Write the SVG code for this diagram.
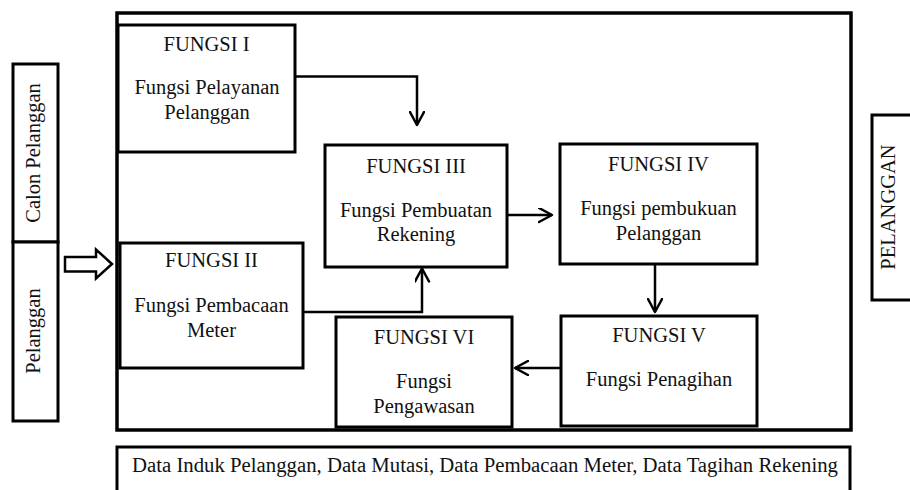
<svg xmlns="http://www.w3.org/2000/svg" width="910" height="490" viewBox="0 0 910 490">
<defs>
<style>
.box{fill:#fff;stroke:#000;stroke-width:3}
.frame{fill:none;stroke:#000;stroke-width:3.5}
.t{font-family:"Liberation Serif","Times New Roman",serif;font-size:20.5px;fill:#111;text-anchor:middle}
.c{fill:none;stroke:#000;stroke-width:2.5}
</style>
<marker id="ah" viewBox="0 0 16 16" markerUnits="userSpaceOnUse" markerWidth="16" markerHeight="16" refX="14" refY="7.5" orient="auto">
<path d="M1,0.5 L14,7.5 L1,14.5" fill="none" stroke="#000" stroke-width="2.5" stroke-linejoin="round" stroke-linecap="round"/>
</marker>
</defs>
<rect width="910" height="490" fill="#fff"/>

<g id="frame"><rect class="frame" x="117" y="13" width="734" height="417"/></g>

<g id="calon-pelanggan">
<rect class="box" x="13" y="64" width="45" height="178"/>
<text class="t" transform="translate(40,153) rotate(-90)">Calon Pelanggan</text>
</g>
<g id="pelanggan-left">
<rect class="box" x="13" y="242" width="45" height="179"/>
<text class="t" transform="translate(40,331) rotate(-90)">Pelanggan</text>
</g>

<g id="pelanggan-right">
<rect class="box" x="872" y="115" width="60" height="185"/>
<text class="t" transform="translate(895,207) rotate(-90)">PELANGGAN</text>
</g>

<g id="fungsi1">
<rect class="box" x="118" y="25" width="177" height="127"/>
<text class="t" x="206.5" y="50.5">FUNGSI  I</text>
<text class="t" x="207" y="94">Fungsi Pelayanan</text>
<text class="t" x="207" y="119">Pelanggan</text>
</g>

<g id="fungsi2">
<rect class="box" x="120" y="243" width="183" height="125"/>
<text class="t" x="211.5" y="267">FUNGSI  II</text>
<text class="t" x="211.5" y="312">Fungsi Pembacaan</text>
<text class="t" x="211.5" y="337">Meter</text>
</g>

<g id="fungsi3">
<rect class="box" x="325" y="145" width="182" height="122"/>
<text class="t" x="416" y="172.5">FUNGSI  III</text>
<text class="t" x="416" y="216.5">Fungsi Pembuatan</text>
<text class="t" x="416" y="241">Rekening</text>
</g>

<g id="fungsi4">
<rect class="box" x="560" y="144" width="197" height="120"/>
<text class="t" x="658.5" y="171">FUNGSI  IV</text>
<text class="t" x="658.5" y="215">Fungsi pembukuan</text>
<text class="t" x="658.5" y="240">Pelanggan</text>
</g>

<g id="fungsi5">
<rect class="box" x="561" y="316" width="196" height="110"/>
<text class="t" x="659" y="342">FUNGSI  V</text>
<text class="t" x="659" y="386">Fungsi Penagihan</text>
</g>

<g id="fungsi6">
<rect class="box" x="336" y="317" width="176" height="110"/>
<text class="t" x="424" y="343.5">FUNGSI  VI</text>
<text class="t" x="424" y="387.5">Fungsi</text>
<text class="t" x="424" y="412.5">Pengawasan</text>
</g>

<g id="data">
<rect class="box" x="117" y="447" width="733" height="60"/>
<text class="t" x="132" y="472" style="text-anchor:start" textLength="706" lengthAdjust="spacingAndGlyphs">Data Induk Pelanggan, Data Mutasi, Data Pembacaan Meter, Data Tagihan Rekening</text>
</g>

<g id="connectors">
<path class="c" d="M295,76.5 H417 V125" marker-end="url(#ah)"/>
<path class="c" d="M507,215 H552" marker-end="url(#ah)"/>
<path class="c" d="M655,264 V312" marker-end="url(#ah)"/>
<path class="c" d="M561,368 H515" marker-end="url(#ah)"/>
<path class="c" d="M303,312 H422 V268.5" marker-end="url(#ah)"/>
<path d="M65,257 H96 V249.5 L112,264 L96,278.5 V271.5 H65 Z" fill="#fff" stroke="#000" stroke-width="2.5" stroke-linejoin="miter"/>
</g>
</svg>
